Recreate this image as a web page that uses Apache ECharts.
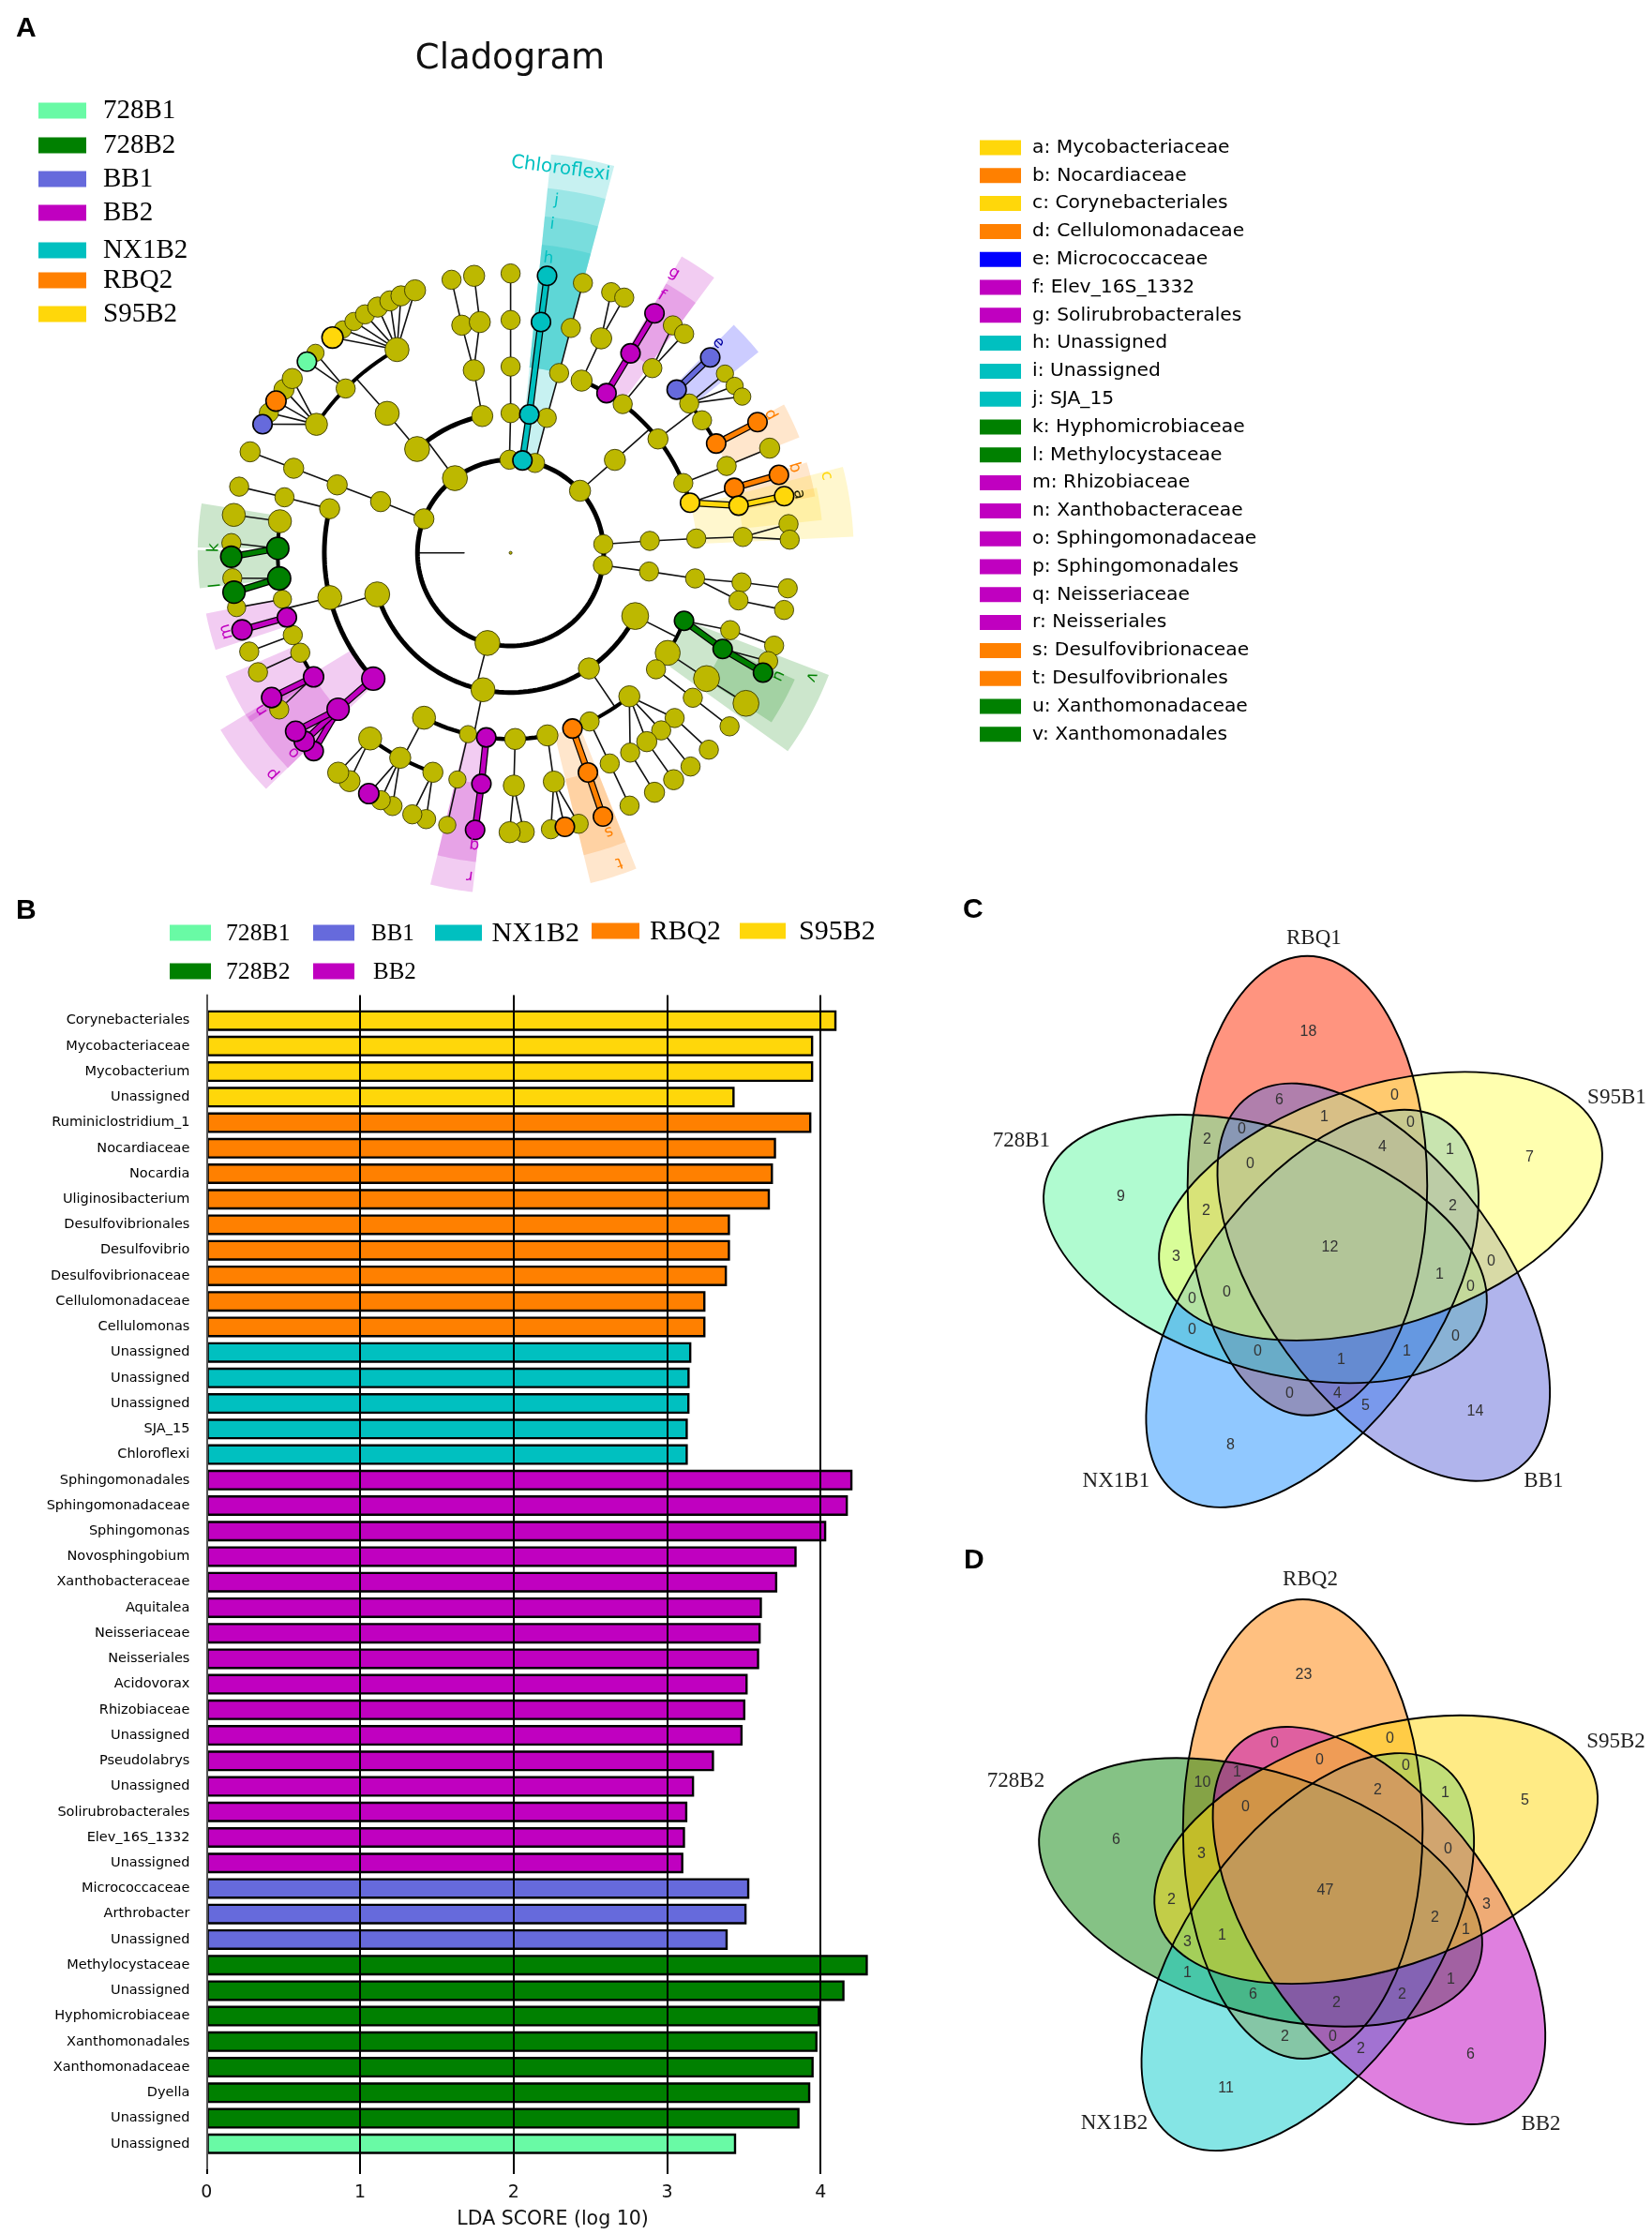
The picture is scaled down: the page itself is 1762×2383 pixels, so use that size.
<!DOCTYPE html>
<html>
<head>
<meta charset="utf-8">
<style>html,body{margin:0;padding:0;background:#fff}#c{width:1762px;height:2383px}</style>
<script src="https://cdn.jsdelivr.net/npm/echarts@6/dist/echarts.min.js"></script>
</head>
<body>
<div id="c"></div>
<script>
// ---------- group palette
const groupNames = ['728B1','728B2','BB1','BB2','NX1B2','RBQ2','S95B2'];
const groupColors = {'728B1':'#69FAA5','728B2':'#008000','BB1':'#666ADC','BB2':'#C000C0','NX1B2':'#00C0C0','RBQ2':'#FF8000','S95B2':'#FFD70A'};
const M='728B1',G='728B2',U='BB1',P='BB2',T='NX1B2',O='RBQ2',Y='S95B2',n=null;

// ---------- panel B data
const barLabels = ['Corynebacteriales','Mycobacteriaceae','Mycobacterium','Unassigned','Ruminiclostridium_1','Nocardiaceae','Nocardia','Uliginosibacterium','Desulfovibrionales','Desulfovibrio','Desulfovibrionaceae','Cellulomonadaceae','Cellulomonas','Unassigned','Unassigned','Unassigned','SJA_15','Chloroflexi','Sphingomonadales','Sphingomonadaceae','Sphingomonas','Novosphingobium','Xanthobacteraceae','Aquitalea','Neisseriaceae','Neisseriales','Acidovorax','Rhizobiaceae','Unassigned','Pseudolabrys','Unassigned','Solirubrobacterales','Elev_16S_1332','Unassigned','Micrococcaceae','Arthrobacter','Unassigned','Methylocystaceae','Unassigned','Hyphomicrobiaceae','Xanthomonadales','Xanthomonadaceae','Dyella','Unassigned','Unassigned'];
const barValues = [4.104,3.952,3.952,3.44,3.94,3.71,3.69,3.67,3.41,3.41,3.39,3.25,3.25,3.158,3.147,3.146,3.135,3.135,4.208,4.178,4.037,3.844,3.718,3.618,3.61,3.6,3.525,3.51,3.492,3.306,3.176,3.132,3.117,3.106,3.536,3.518,3.395,4.308,4.156,3.996,3.98,3.955,3.933,3.863,3.45];
const barGroupRuns = [[Y,4],[O,9],[T,5],[P,16],[U,3],[G,7],[M,1]];
const ldaTicks = [0,1,2,3,4];

// ---------- panel A taxon legend
const taxonLegend = [['a: Mycobacteriaceae',Y],['b: Nocardiaceae',O],['c: Corynebacteriales',Y],['d: Cellulomonadaceae',O],['e: Micrococcaceae','#0000FF'],['f: Elev_16S_1332',P],['g: Solirubrobacterales',P],['h: Unassigned',T],['i: Unassigned',T],['j: SJA_15',T],['k: Hyphomicrobiaceae',G],['l: Methylocystaceae',G],['m: Rhizobiaceae',P],['n: Xanthobacteraceae',P],['o: Sphingomonadaceae',P],['p: Sphingomonadales',P],['q: Neisseriaceae',P],['r: Neisseriales',P],['s: Desulfovibrionaceae',O],['t: Desulfovibrionales',O],['u: Xanthomonadaceae',G],['v: Xanthomonadales',G]];

// ---------- cladogram nodes: [id, parent, rank, angle, group, abundance]
const cladeRoot = [['R',n,0,0,n,0.15],['K0',n,1,270,n,0],['K1','K0',2,270,n,0]];
const cladeChloroflexi = [['c1',n,2,7.3,T],['c2','c1',3,7.7,T],['c3','c2',5,7.5,T],['c4','c3',6,7.5,T]];
const cladeTopA = [['a1',n,2,359.3],['a2','a1',3,0],['a3','a2',4,0],['a4','a3',5,0],['a5','a4',6,0]];
const cladeTopB = [['b1',n,2,15.2],['b2','b1',3,15],['b3','b2',4,15.1],['b4','b3',5,15],['b5','b4',6,15]];
const cladeActino = [['d1',n,2,48.2,n,1.1],['d2','d1',3,48.3,n,1.1],
 ['d3','d2',4,22.4,n,1.1],['d4','d3',5,22.9,n,1.1],['d5','d4',6,21.1],['d6','d4',6,24],
 ['f1','d2',4,31,P],['f2','f1',5,31,P],['f3','f2',6,31,P],
 ['g1','d2',4,37],['g2','g1',5,37.5],['g3','g2',6,35.5],['g4','g2',6,38.4],
 ['h1','d2',4,52.3,n,1.05],['e1','h1',5,45.5,U],['e2','e1',6,45.6,U],['h2','h1',5,50.1],['h3','h2',6,50.1,n,.9],['h4','h2',6,53.3,n,.9],['h5','h2',6,56,n,.9],['h6','h1',5,55.3],['dd','h1',5,62,O],['de','dd',6,62.1,O],
 ['i1','d2',4,68],['i2','i1',5,68.1],['i3','i2',6,68,n,1.05],
 ['y1','d2',4,74.4,Y],['y2','y1',5,78.3,Y],['y3','y2',6,78.3,Y],['o1','y1',5,73.8,O],['o2','o1',6,73.8,O]];
const cladeRightA = [['j1',n,2,84.7],['j2','j1',3,85.1],['j3','j2',4,85.6],['j4','j3',5,86.1],['j5','j4',6,84.1],['j6','j4',6,87.3]];
const cladeRightB = [['k1',n,2,97.7],['k2','k1',3,97.7],['k3','k2',4,97.9],['k4','k3',5,97.3],['k5','k4',6,97.3],['k6','k3',5,101.8],['k7','k6',6,101.8]];
const cladeProteoRoot = [['p0',n,2,194.4,n,1.3]];
const cladeGammaRight = [['q1','p0',3,116.9,n,1.4],
 ['v1','q1',4,111.4,G],['v2','v1',5,109.4],['v3','v2',6,109.4],['v4','v1',5,114.4,G],['v5','v4',6,115.4,G],['v6','v4',6,112.8],
 ['q2','q1',4,122.5,n,1.3],['q3','q2',5,122.7,n,1.35],['q4','q3',6,122.6,n,1.35],
 ['q5','q1',4,128.7],['q6','q5',5,128.5],['q7','q6',6,128.4]];
const cladeBetaBottom = [['s1','p0',3,145.9,n,1.1],
 ['s2','s1',4,140.4,n,1.1],['s3','s2',5,135.2],['s4','s3',6,134.8],['s5','s2',5,139.7],['s6','s5',6,139.9],['s7','s2',5,144.2,n,1.05],['s8','s7',6,144.3,n,1.05],['s9','s2',5,149.1],['s10','s9',6,149,n,1.05],
 ['s11','s1',4,154.9],['s12','s11',5,154.8],['s13','s12',6,154.8],
 ['t1','s1',4,160.6,O],['t2','t1',5,160.6,O],['t3','t2',6,160.7,O]];
const cladeDeltaBottom = [['u1','p0',3,191.4,n,1.25],
 ['u2','u1',4,168.6,n,1.1],['u3','u2',5,169.3,n,1.1],['u4','u3',6,165.9],['u5','u3',6,168.8,O],['u6','u3',6,171.7],
 ['u7','u1',4,178.6,n,1.1],['u8','u7',5,179.2,n,1.1],['u9','u8',6,177.3,n,1.1],['u10','u8',6,180.2,n,1.1],
 ['r1','u1',4,187.5,P],['r2','r1',5,187.2,P],['r3','r2',6,187.3,P],
 ['u11','u1',4,193.2,n,.9],['u12','u11',5,193.2,n,.9],['u13','u12',6,193.1,n,.9],
 ['w1','u1',4,207.7,n,1.2],['w2','w1',5,199.5,n,1.05],['w3','w2',6,197.6],['w4','w2',6,200.6],
 ['w5','w1',5,208.3,n,1.1],['w6','w5',6,205],['w7','w5',6,207.7],['w8','w5',6,210.5,P,1.05],
 ['w9','w1',5,217.1,n,1.2],['w10','w9',6,215.2,n,1.1],['w11','w9',6,218.1,n,1.1]];
const cladeAlphaLeft = [['x1','p0',3,252.7,n,1.3],
 ['x2','x1',4,227.5,P,1.2],['x3','x2',5,227.8,P,1.15],['x4','x3',6,224.8,P],['x5','x3',6,227.6,P,1.05],['x6','x3',6,230.3,P,1.05],
 ['x7','x1',4,256.1,n,1.25],['m1','x7',5,253.9,P],['m2','m1',6,254,P,1.05],['n1','x7',5,237.8,P,1.05],['n2','n1',6,238.8,P,1.05],['n3','n1',6,235.9],
 ['x8','x7',5,244.6],['x9','x8',6,244.7],['x10','x7',5,249.3],['x11','x10',6,249.3],['x12','x7',5,258.5,n,.95],['x13','x12',6,258.7,n,.95],
 ['l1','x7',5,263.7,G,1.2],['l2','l1',6,261.9,G,1.15],['l3','l1',6,264.8,n,1],
 ['k8','x7',5,271.1,G,1.15],['k9','k8',6,269.2,G,1.1],['k10','k8',6,272,n,1],
 ['x14','x7',5,277.8,n,1.2],['x15','x14',6,277.8,n,1.2],
 ['x16','x1',4,283.7,n,1.05],['x17','x16',5,283.8],['x18','x17',6,283.7]];
const cladeUpperLeftA = [['l10',n,2,291.4,n,1.05],['l11','l10',3,291.5,n,1.05],['l12','l11',4,291.4,n,1.05],['l13','l12',5,291.3,n,1.05],['l14','l13',6,291.2,n,1.05]];
const cladeUpperLeftB = [['z0',n,2,323.3,n,1.3],['z1','z0',3,318,n,1.3],['z2','z1',4,318.5,n,1.25],
 ['z3','z2',5,303.5,n,1.15],['z4','z3',6,297.4,U],['z5','z3',6,300.1],['z6','z3',6,302.9,O,1.05],['z7','z3',6,305.8,n,1.05],['z8','z3',6,308.6,n,1.05],
 ['z9','z2',5,314.9],['z10','z9',6,313.2,M],['z11','z9',6,315.7,n,.9],
 ['z12','z2',5,330.8,n,1.25],['z13','z12',6,320.4,Y,1.1],['z14','z12',6,323.1,n,.9],['z15','z12',6,325.9,n,.95],['z16','z12',6,328.6,n,1],['z17','z12',6,331.6,n,1.05],['z18','z12',6,334.4,n,1.05],['z19','z12',6,336.9,n,1.05],['z20','z12',6,340,n,1.1],
 ['z21','z0',3,348.3,n,1.1],['z22','z21',4,348.6,n,1.1],['z23','z22',5,347.9,n,1.05],['z24','z22',5,352.4,n,1.1],['z25','z23',6,347.8],['z26','z24',6,352.5,n,1.1]];
const cladeRows = [].concat(cladeRoot,cladeChloroflexi,cladeTopA,cladeTopB,cladeActino,cladeRightA,cladeRightB,cladeProteoRoot,cladeGammaRight,cladeBetaBottom,cladeDeltaBottom,cladeAlphaLeft,cladeUpperLeftA,cladeUpperLeftB);

// arcs: [parent id or null, rank, start angle, end angle, weight]
const cladeArcs = [[n,2,0,360,5],['p0',3,116.9,252.7,5],['z0',3,318,348.3,5],['d2',4,22.4,74.4,4.5],['q1',4,111.4,128.7,4],['s1',4,140.4,160.6,4],['u1',4,168.6,207.7,4.5],['x1',4,227.5,283.7,5],['z2',5,303.5,330.8,4],['w1',5,199.5,217.1,4],['h1',5,45.5,62,4],['x7',5,237.8,277.8,4]];

// highlight sectors: [inner, outer, start, end, group/colour]
const cladeSectors = [
 [2.05,8.6,5.8,15,T],[4,7.87,5.8,15,T],[4,7.26,5.8,15,T],[4,6.65,5.8,15,T],
 [4,7.35,30,36.5,P],[5,6.68,30,36.5,P],
 [5,6.85,44.4,51,'#0000FF'],[5,6.68,61.5,68.2,O],[5,6.65,73,79.5,O],[5,6.72,78,84,Y],[4,7.37,75.5,87.3,Y],
 [4,7.32,111,125.6,G],[5,6.68,114,123,G],
 [4,7.3,158.3,166.4,O],[5,6.68,158.3,166.4,O],
 [4,7.33,186.4,193.6,P],[5,6.68,186.4,193.6,P],
 [4,7.3,226,238.6,P],[5,6.65,226,238,P],[5,6.67,237,246.6,P],[5,6.67,251.8,258.7,P],
 [5,6.72,263.5,270.5,G],[5,6.72,271,279.1,G]];

// clade labels: [text, radius, angle, colour group]
const cladeLabels = [['Chloroflexi',8.32,7.4,T],['j',7.63,7.4,T],['i',7.11,7.2,T],['h',6.37,7.3,T],['g',6.96,30.3,P],['f',6.4,30.4,P],['e',6.34,44.7,'#0000A0'],['d',6.32,62,O],['b',6.37,73.3,O],['c',6.98,76.3,Y],['a',6.32,78.5,'#222200'],['k',6.37,271,G],['l',6.37,263.7,G],['m',6.33,254.5,P],['n',6.33,237.8,P],['o',6.33,227.3,P],['p',6.98,227.1,P],['q',6.32,187.1,P],['r',6.99,187.2,P],['s',6.35,160.6,O],['t',7.04,160.7,O],['u',6.33,114.7,G],['v',6.99,112.4,G]];

// ---------- Venn data (shared geometry in pixels about rosette centre)
const vennPetalOffset = 69;
const vennPetalBase = 249.7;
const vennPetalAxes = [127.8,245];
const vennDrawOrder = [0,4,3,2,1];
const vennRegionPositions = [[-23,-229],[-54,-156],[69,-161],[-6,-138],[86,-132],[-94,-125],[-131,-114],[56,-106],[128,-103],[-85,-88],[213,-95],[-223,-53],[-132,-38],[131,-43],[0,1],[-164,11],[172,16],[117,30],[150,43],[-110,49],[-147,56],[-147,89],[134,96],[-77,112],[82,112],[12,121],[-43,157],[8,157],[38,170],[155,176],[-106,212]];
const vennCountsC = [18,6,0,1,0,0,2,4,1,0,7,9,2,2,12,3,0,1,0,0,0,0,0,0,1,1,0,4,5,14,8];
const vennCountsD = [23,0,0,0,0,1,10,2,1,0,5,6,3,0,47,2,3,2,1,1,3,1,1,6,2,2,2,0,2,6,11];
const vennNamesC = ['RBQ1','S95B1','BB1','NX1B1','728B1'];
const vennNamesD = ['RBQ2','S95B2','BB2','NX1B2','728B2'];
const vennNamePosC = [[-17,-328],[306,-158],[228,251],[-228,251],[-329,-112]];
const vennNamePosD = [[-16,-331],[310,-158],[230,250],[-225,249],[-330,-116]];
const vennFillC = ['#ff2a00','#ffff60','#6169d9','#2191ff','#61f7a1'];
const vennFillD = ['#ff8101','#ffd70b','#c000c0','#0bcbcb','#0b850b'];

// ---------- helpers
const byId = {}; cladeRows.forEach(r=>{byId[r[0]]=r;});
const arcByParent = {}; cladeArcs.forEach(a=>{ if(a[0]) arcByParent[a[0]]=a; });
const cladeEdges = [];
cladeRows.forEach(r=>{
  if(!r[1]) return;
  const p = byId[r[1]];
  if(arcByParent[r[1]]) return;
  const colored = r[4] && p[4]===r[4];
  cladeEdges.push({from:[p[2],p[3]],to:[r[2],r[3]],group:colored?r[4]:null});
});
cladeArcs.forEach(a=>{ if(a[0]){ const p=byId[a[0]]; cladeEdges.push({from:[p[2],p[3]],to:[a[1],p[3]],group:null}); }});
function colorOf(g){return groupColors[g]||g;}
function rgba(hex,a){const v=parseInt(hex.slice(1),16);return 'rgba('+(v>>16)+','+((v>>8)&255)+','+(v&255)+','+a+')';}

const barGroups=[]; barGroupRuns.forEach(([g,c])=>{for(let i=0;i<c;i++)barGroups.push(g);});
const yCats=[''].concat(barLabels,['']);

const OLIVE='#BDB800';
const NODE_D=20.5;
function nodeSeries(g){
  const rows=cladeRows.filter(r=>(r[4]||null)===g && (r[5]===undefined||r[5]>0));
  return {type:'scatter',coordinateSystem:'polar',name:g||'other',z:g?6:5,
    data:rows.map(r=>[r[2],r[3],r[5]===undefined?1:r[5]]),
    symbolSize:v=>NODE_D*v[2],
    itemStyle:{color:g?groupColors[g]:OLIVE,borderColor:g?'#000':'#3a3a00',borderWidth:g?1.6:0.9,opacity:1},silent:true,animation:false};
}

// ---------- graphic legends
const graphics=[];
function gText(t,x,y,font,align,fill){graphics.push({type:'text',x:x,y:y,z:20,style:{text:t,font:font,fill:fill||'#000',align:align||'left',verticalAlign:'middle'}});}
function gRect(x,y,w,h,c){graphics.push({type:'rect',z:20,shape:{x:x,y:y-h/2,width:w,height:h},style:{fill:c}});}
gText('A',17,31,'bold 30px "Liberation Sans"');
gText('B',17,972,'bold 30px "Liberation Sans"');
gText('C',1027,971,'bold 30px "Liberation Sans"');
gText('D',1028,1665,'bold 30px "Liberation Sans"');
const legendARows=[118,155,191,227,267,299,335];
groupNames.forEach((g,i)=>{gRect(41,legendARows[i],51,17,groupColors[g]);gText(g,110,legendARows[i],'29px "Liberation Serif"');});
const legendBItems=[[M,181,44,241,996,25.7],[U,334,44,396,996,25],[T,464,50,524.6,996,30],[O,631,51,693,994,29.7],[Y,789,49,852,994,30],[G,181,44,241,1037,25.7],[P,334,44,398,1037,25]];
legendBItems.forEach(it=>{gRect(it[1],it[4]-1,it[2],17,groupColors[it[0]]);gText(it[0],it[3],it[4],it[5]+'px "Liberation Serif"');});
taxonLegend.forEach((t,i)=>{const y=157.5+29.8*i;gRect(1045,y,44,16,colorOf(t[1]));gText(t[0],1101,y,'20.3px "DejaVu Sans"');});

function vennSeries(idx,fills,counts,names,namePos){
  const petals=vennDrawOrder.map(i=>{const a=(vennPetalBase+72*i)*Math.PI/180;return [vennPetalOffset*Math.cos(a),vennPetalOffset*Math.sin(a),72*i,fills[i]];});
  const ell=(outline)=>(p,api)=>{const d=petals[p.dataIndex];const c=api.coord([d[0],d[1]]);const s=api.size(vennPetalAxes);
      return {type:'ellipse',x:c[0],y:c[1],rotation:-d[2]*Math.PI/180,shape:{cx:0,cy:0,rx:s[0],ry:s[1]},style:outline?{fill:'none',stroke:'#000',lineWidth:1.9}:{fill:rgba(d[3],0.5)}};};
  return [
   {type:'custom',xAxisIndex:idx,yAxisIndex:idx,z:3,silent:true,animation:false,data:petals.map(d=>[d[0],d[1]]),renderItem:ell(false)},
   {type:'custom',xAxisIndex:idx,yAxisIndex:idx,z:3.5,silent:true,animation:false,data:petals.map(d=>[d[0],d[1]]),renderItem:ell(true)},
   {type:'scatter',xAxisIndex:idx,yAxisIndex:idx,z:4,silent:true,animation:false,symbolSize:1,itemStyle:{opacity:0},
    data:vennRegionPositions.map(q=>[q[0],q[1]]),
    label:{show:true,opacity:1,position:'inside',formatter:p=>String(counts[p.dataIndex]),fontFamily:'Liberation Sans',fontSize:16,color:'#333'}},
   {type:'scatter',xAxisIndex:idx,yAxisIndex:idx,z:4,silent:true,animation:false,symbolSize:1,itemStyle:{opacity:0},
    data:namePos.map(q=>[q[0],q[1]]),
    label:{show:true,opacity:1,position:'inside',formatter:p=>names[p.dataIndex],fontFamily:'Liberation Serif',fontSize:23,color:'#222'}}
  ];
}
function hiddenAxes(){return {show:false,type:'value'};}

const series=[
 // sectors
 {type:'custom',coordinateSystem:'polar',z:1,silent:true,animation:false,data:cladeSectors.map(s=>[s[0],s[2]]),
  renderItem:(p,api)=>{const s=cladeSectors[p.dataIndex];const pts=[];const N=10;
    for(let i=0;i<=N;i++)pts.push(api.coord([s[1],s[2]+(s[3]-s[2])*i/N]));
    for(let i=N;i>=0;i--)pts.push(api.coord([s[0],s[2]+(s[3]-s[2])*i/N]));
    return {type:'polygon',shape:{points:pts},style:{fill:rgba(colorOf(s[4]),s[4]==='NX1B2'?0.22:0.2)}};}},
 // thin + coloured edges
 {type:'custom',coordinateSystem:'polar',z:2,silent:true,animation:false,data:cladeEdges.map(e=>[e.to[0],e.to[1]]),
  renderItem:(p,api)=>{const e=cladeEdges[p.dataIndex];const a=api.coord(e.from),b=api.coord(e.to);
    const line=(w,c)=>({type:'line',shape:{x1:a[0],y1:a[1],x2:b[0],y2:b[1]},style:{stroke:c,lineWidth:w,lineCap:'round'}});
    return e.group?{type:'group',children:[line(7.5,'#000'),line(5,groupColors[e.group])]}:line(1.6,'#111');}},
 // arcs
 {type:'custom',coordinateSystem:'polar',z:3,silent:true,animation:false,data:cladeArcs.map(a=>[a[1],a[2]]),
  renderItem:(p,api)=>{const a=cladeArcs[p.dataIndex];const pts=[];const N=Math.ceil((a[3]-a[2])/2);
    for(let i=0;i<=N;i++)pts.push(api.coord([a[1],a[2]+(a[3]-a[2])*i/N]));
    return {type:'polyline',shape:{points:pts},style:{stroke:'#000',fill:'none',lineWidth:a[4]}};}},
 nodeSeries(null)
].concat(groupNames.map(nodeSeries)).concat([
 // clade labels
 {type:'custom',coordinateSystem:'polar',z:7,silent:true,animation:false,data:cladeLabels.map(l=>[l[1],l[2]]),
  renderItem:(p,api)=>{const l=cladeLabels[p.dataIndex];const c=api.coord([l[1],l[2]]);
    return {type:'text',x:c[0],y:c[1],rotation:-l[2]*Math.PI/180,style:{text:l[0],fill:colorOf(l[3]),font:(l[0].length>1?'20':'17')+'px "DejaVu Sans"',align:'center',verticalAlign:'middle'}};}},
 // bars
 {type:'bar',xAxisIndex:0,yAxisIndex:0,barWidth:22,silent:true,animation:false,z:2,
  data:barValues.map((v,i)=>({value:[v,i+1],itemStyle:{color:groupColors[barGroups[i]]}})),
  encode:{x:0,y:1},
  itemStyle:{borderColor:'#000',borderWidth:2.4}}
]).concat(vennSeries(1,vennFillC,vennCountsC,vennNamesC,vennNamePosC))
  .concat(vennSeries(2,vennFillD,vennCountsD,vennNamesD,vennNamePosD));

const option={
 animation:false,backgroundColor:'#fff',
 title:{text:'Cladogram',left:539,top:40,textAlign:'center',textStyle:{fontFamily:'DejaVu Sans',fontSize:37,fontWeight:'normal',color:'#111'}},
 polar:{center:[544.6,589.7],radius:447},
 radiusAxis:{type:'value',min:0,max:9,show:false},
 angleAxis:{type:'value',min:0,max:360,startAngle:90,clockwise:true,show:false},
 grid:[
  {left:220.4,top:1061.4,width:720.3,height:1254.9,containLabel:false},
  {left:1078.4,top:979.4,width:680,height:700},
  {left:1073.5,top:1665.7,width:680,height:700}],
 xAxis:[
  {type:'value',gridIndex:0,min:0,max:4.4,position:'bottom',z:4,
   axisLine:{show:false},
   axisTick:{show:true,length:5,customValues:ldaTicks,lineStyle:{color:'#000',width:2}},
   axisLabel:{customValues:ldaTicks,margin:16,fontFamily:'DejaVu Sans',fontSize:19,color:'#111'},
   splitLine:{show:true,showMinLine:false,lineStyle:{color:'#000',width:2}},
   name:'LDA SCORE (log 10)',nameLocation:'middle',nameGap:43,
   nameTextStyle:{fontFamily:'DejaVu Sans',fontSize:20.5,color:'#111',padding:[0,0,0,18]}},
  Object.assign(hiddenAxes(),{gridIndex:1,min:-340,max:340}),
  Object.assign(hiddenAxes(),{gridIndex:2,min:-340,max:340})],
 yAxis:[
  {type:'category',gridIndex:0,data:yCats,inverse:true,boundaryGap:false,z:4,
   axisLine:{show:true,lineStyle:{color:'#555',width:2}},axisTick:{show:false},splitLine:{show:false},
   axisLabel:{interval:0,margin:18,fontFamily:'DejaVu Sans',fontSize:14.5,color:'#000'}},
  Object.assign(hiddenAxes(),{gridIndex:1,min:-350,max:350,inverse:true}),
  Object.assign(hiddenAxes(),{gridIndex:2,min:-350,max:350,inverse:true})],
 graphic:{elements:graphics},
 series:series
};
const chart=echarts.init(document.getElementById('c'),null,{renderer:'canvas'});
chart.setOption(option);
</script>
</body>
</html>
